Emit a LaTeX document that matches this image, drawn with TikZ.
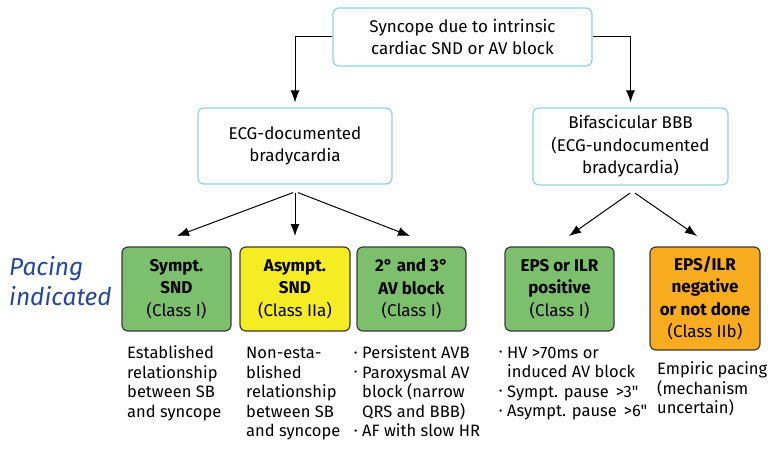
\documentclass[tikz,border=0pt]{standalone}
\usepackage{fontspec}
\setmainfont{Fira Sans}[Ligatures=TeXOff]
\usetikzlibrary{arrows.meta,calc}
\definecolor{cyanb}{HTML}{8DD5DA}
\definecolor{gbox}{HTML}{7CBF6C}
\definecolor{ybox}{HTML}{F6EC23}
\definecolor{obox}{HTML}{F9AC1F}
\definecolor{pblue}{HTML}{27479A}
\definecolor{bord}{HTML}{3A3A3A}
\newcommand\bul{\makebox[8pt][l]{\raisebox{2.5pt}{\fontsize{10}{10}\selectfont •}}}
\newcommand\ind{\hspace*{8pt}}
\begin{document}
\begin{tikzpicture}[x=1pt,y=-1pt,
  qbox/.style={draw=cyanb,line width=1.2pt,rounded corners=6pt,fill=white,align=center,
    font=\fontsize{17}{22.5}\selectfont,inner sep=0pt},
  cbox/.style={draw=bord,line width=1.2pt,rounded corners=6pt,align=center,
    font=\fontsize{17}{22.5}\selectfont,inner sep=0pt,minimum width=109pt,minimum height=84pt},
  note/.style={anchor=base west,align=left,inner sep=0pt,font=\fontsize{16.5}{19.4}\selectfont},
  arr/.style={line width=1pt,-{Latex[length=12pt,width=9pt]}}]
\useasboundingbox (0,0) rectangle (768,452);
% top level
\node[qbox,minimum width=259pt,minimum height=58pt] (top) at (462.5,37) {Syncope due to intrinsic\\cardiac SND or AV block};
\node[qbox,minimum width=194pt,minimum height=76pt] (ecg) at (295,146) {ECG-documented\\bradycardia};
\node[qbox,minimum width=195pt,minimum height=77pt] (bif) at (630.5,146.5) {Bifascicular BBB\\(ECG-undocumented\\bradycardia)};
\draw[arr,shorten >=5pt] (top.west) -| (ecg.north);
\draw[arr,shorten >=5pt] (top.east) -| (bif.north);
% bottom boxes
\node[cbox,fill=gbox] (s1) at (176.5,289) {\textbf{Sympt.}\\\textbf{SND}\\(Class I)};
\node[cbox,fill=ybox,minimum width=110pt] (s2) at (295,289) {\textbf{Asympt.}\\\textbf{SND}\\(Class IIa)};
\node[cbox,fill=gbox] (s3) at (411.5,289) {\textbf{2° and 3°}\\\textbf{AV block}\\(Class I)};
\node[cbox,fill=gbox] (s4) at (559.5,289) {\textbf{EPS or ILR}\\\textbf{positive}\\(Class I)};
\node[cbox,fill=obox,minimum width=110pt,minimum height=103pt] (s5) at (705,298.5) {\textbf{EPS/ILR}\\\textbf{negative}\\\textbf{or not done}\\(Class IIb)};
% arrow coordinates
\coordinate (e1) at ($(ecg.south)+(-2,8)$);
\coordinate (e2) at ($(ecg.south)+(0,8)$);
\coordinate (e3) at ($(ecg.south)+(3,8)$);
\coordinate (t1) at (177,236);
\coordinate (t2) at (295,236);
\coordinate (t3) at (410,236);
\draw[arr] (e1) -- (t1);
\draw[arr] (e2) -- (t2);
\draw[arr] (e3) -- (t3);
\coordinate (b1) at ($(bif.south)+(-0.5,7.5)$);
\coordinate (b2) at ($(bif.south)+(4.5,7.5)$);
\coordinate (u1) at (569,236);
\coordinate (u2) at (697,236);
\draw[arr] (b1) -- (u1);
\draw[arr] (b2) -- (u2);
% pacing indicated (base = last line)
\node[anchor=base west,align=left,inner sep=0pt,text=pblue,
  font=\fontsize{24.5}{30}\selectfont\itshape] (pi) at (9,305) {Pacing\\indicated};
% notes (base = last line)
\node[note] (n1) at (127,417) {Established\\relationship\\between SB\\and syncope};
\node[note] (n2) at (246,436.5) {Non-esta-\\blished\\relationship\\between SB\\and syncope};
\node[note] (n3) at (354,436.5) {\bul Persistent AVB\\\bul Paroxysmal AV\\\ind block (narrow\\\ind QRS and BBB)\\\bul AF with slow HR};
\node[note] (n4) at (499,416.5) {\bul HV >70ms or\\\ind induced AV block\\\bul Sympt. pause \,>3"\\\bul Asympt. pause \,>6"};
\node[note] (n5) at (657,413.5) {Empiric pacing\\(mechanism\\uncertain)};
\end{tikzpicture}
\end{document}
